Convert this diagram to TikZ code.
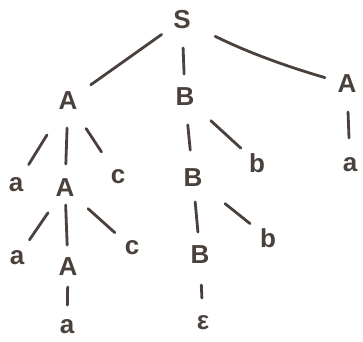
\documentclass[tikz,border=0pt]{standalone}
\usepackage{fontspec}
\setmainfont{Liberation Sans}
\definecolor{ink}{HTML}{4A413D}
\begin{document}
\begin{tikzpicture}[x=1pt,y=-1pt,
  sym/.style={text=ink,font=\fontsize{26}{28}\selectfont\bfseries,inner sep=4pt},
  br/.style 2 args={draw=ink,line width=2.8pt,line cap=round,shorten <=#1,shorten >=#2}]
\useasboundingbox (0,0) rectangle (363,341);
\node[sym] (S) at (182,20) {S};
\node[sym] (A1) at (68,101) {A};
\node[sym] (B1) at (185,97) {B};
\node[sym] (A2) at (347,84) {A};
\node[sym] (a1) at (16,185) {a};
\node[sym] (A4) at (65,188) {A};
\node[sym] (c1) at (118,177) {c};
\node[sym] (B2) at (193,178) {B};
\node[sym] (b1) at (257,163) {b};
\node[sym] (a2) at (350,165) {a};
\node[sym] (a3) at (17,258) {a};
\node[sym] (A3) at (68,267) {A};
\node[sym] (c2) at (132,248) {c};
\node[sym] (B3) at (200,255) {B};
\node[sym] (b2) at (268,238) {b};
\node[sym] (a4) at (67,327) {a};
\node[sym] (e) at (203,323) {ε};
\draw[br={25pt}{28pt}] (S.center) -- (A1.center);
\draw[br={28pt}{23pt}] (S.center) -- (B1.center);
\draw[br={37pt}{23pt}] (S.center) to[bend right=5] (A2.center);
\draw[br={40pt}{24pt}] (A1.center) -- (a1.center);
\draw[br={27pt}{24pt}] (A1.center) -- (A4.center);
\draw[br={33pt}{30pt}] (A1.center) -- (c1.center);
\draw[br={28pt}{28pt}] (B1.center) -- (B2.center);
\draw[br={35pt}{22pt}] (B1.center) -- (b1.center);
\draw[br={28pt}{27pt}] (A2.center) -- (a2.center);
\draw[br={30pt}{22pt}] (A4.center) -- (a3.center);
\draw[br={17pt}{22pt}] (A4.center) -- (A3.center);
\draw[br={31pt}{23pt}] (A4.center) -- (c2.center);
\draw[br={24pt}{23pt}] (B2.center) -- (B3.center);
\draw[br={41pt}{23pt}] (B2.center) -- (b2.center);
\draw[br={20pt}{22pt}] (A3.center) -- (a4.center);
\draw[br={30pt}{25pt}] (B3.center) -- (e.center);
\end{tikzpicture}
\end{document}
